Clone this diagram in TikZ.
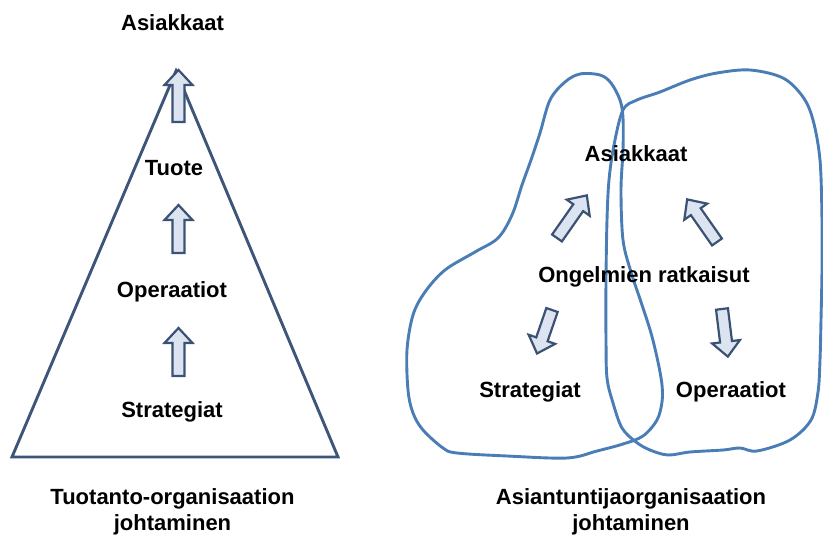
\documentclass[tikz,border=0pt]{standalone}
\usepackage{fontspec}
\setmainfont{Liberation Sans}
\definecolor{triline}{HTML}{3E5579}
\definecolor{blobline}{HTML}{4A7DB5}
\definecolor{arrline}{HTML}{3B5274}
\definecolor{arrfill}{HTML}{DBE4F0}
\begin{document}
\begin{tikzpicture}[x=1pt,y=-1pt,
  lbl/.style={anchor=base,inner sep=0pt,font=\fontsize{22}{25}\selectfont\bfseries},
  triangle/.style={draw=triline,line width=2.9pt,line join=miter},
  blob/.style={draw=blobline,line width=2.9pt,line join=round},
  arrowline/.style={draw=arrline,fill=arrfill,line width=2.2pt,line join=miter},
  pics/barrow/.style={code={
    \draw[arrowline] (0,-6) -- ({#1-15},-6) -- ({#1-15},-14) -- (#1,0)
      -- ({#1-15},14) -- ({#1-15},6) -- (0,6) -- cycle;}}]
\useasboundingbox (0,0) rectangle (823,537);

% ---- left: production organisation ----
\coordinate (apex) at (176,71);
\coordinate (bl) at (12,457);
\coordinate (br) at (338,457);
\draw[triangle] (apex) -- (bl) -- (br) -- cycle;

\node[lbl] (asL) at (172.5,31) {Asiakkaat};
\node[lbl] (tuote) at (174,176) {Tuote};
\node[lbl] (opL) at (172,298) {Operaatiot};
\node[lbl] (stL) at (172,418) {Strategiat};
\node[lbl] (capL1) at (172.5,505) {Tuotanto-organisaation};
\node[lbl] (capL2) at (172.5,530) {johtaminen};

\pic[rotate=90] at (178.5,122) {barrow=52};
\pic[rotate=90] at (178.5,253) {barrow=48};
\pic[rotate=90] at (178.5,376) {barrow=48};

% ---- right: expert organisation ----
\draw[blob] plot[smooth cycle,tension=0.55] coordinates {
  (580,74) (600,75) (611,83) (620,100) (623,118) (623,150) (621,190)
  (623,240) (631,272) (641,302) (651,333) (658,362) (662,385) (662,402)
  (657,420) (643,436) (623,444) (597,451) (567,458) (507,456) (457,453)
  (443,448) (423,430) (413,413) (408,390) (407,350) (413,315) (425,292)
  (445,270) (475,252) (498,238) (512,215) (522,185) (531,160) (540,133)
  (550,100) (565,82)};
\draw[blob] plot[smooth cycle,tension=0.55] coordinates {
  (623,110) (637,100) (660,92) (690,80) (717,73) (750,70) (783,78)
  (803,97) (813,120) (820,160) (822,220) (822,270) (821,320) (820,360)
  (818,392) (811,420) (790,440) (757,451) (740,448) (723,450) (690,452)
  (668,455) (650,450) (636,442) (622,428) (613,403) (607,378) (606,340)
  (606,280) (607,220) (609,180) (614,145)};

\node[lbl] (asR) at (636,162) {Asiakkaat};
\node[lbl] (ongR) at (644,283) {Ongelmien ratkaisut};
\node[lbl] (stR) at (530,398) {Strategiat};
\node[lbl] (opR) at (731,398) {Operaatiot};
\node[lbl] (capR1) at (631,505) {Asiantuntijaorganisaation};
\node[lbl] (capR2) at (631,530) {johtaminen};

\pic[rotate=55] at (557,238) {barrow=52};
\pic[rotate=125] at (717,242) {barrow=52};
\pic[rotate=-109] at (552,310) {barrow=46};
\pic[rotate=-83] at (722,309) {barrow=48};
\end{tikzpicture}
\end{document}
